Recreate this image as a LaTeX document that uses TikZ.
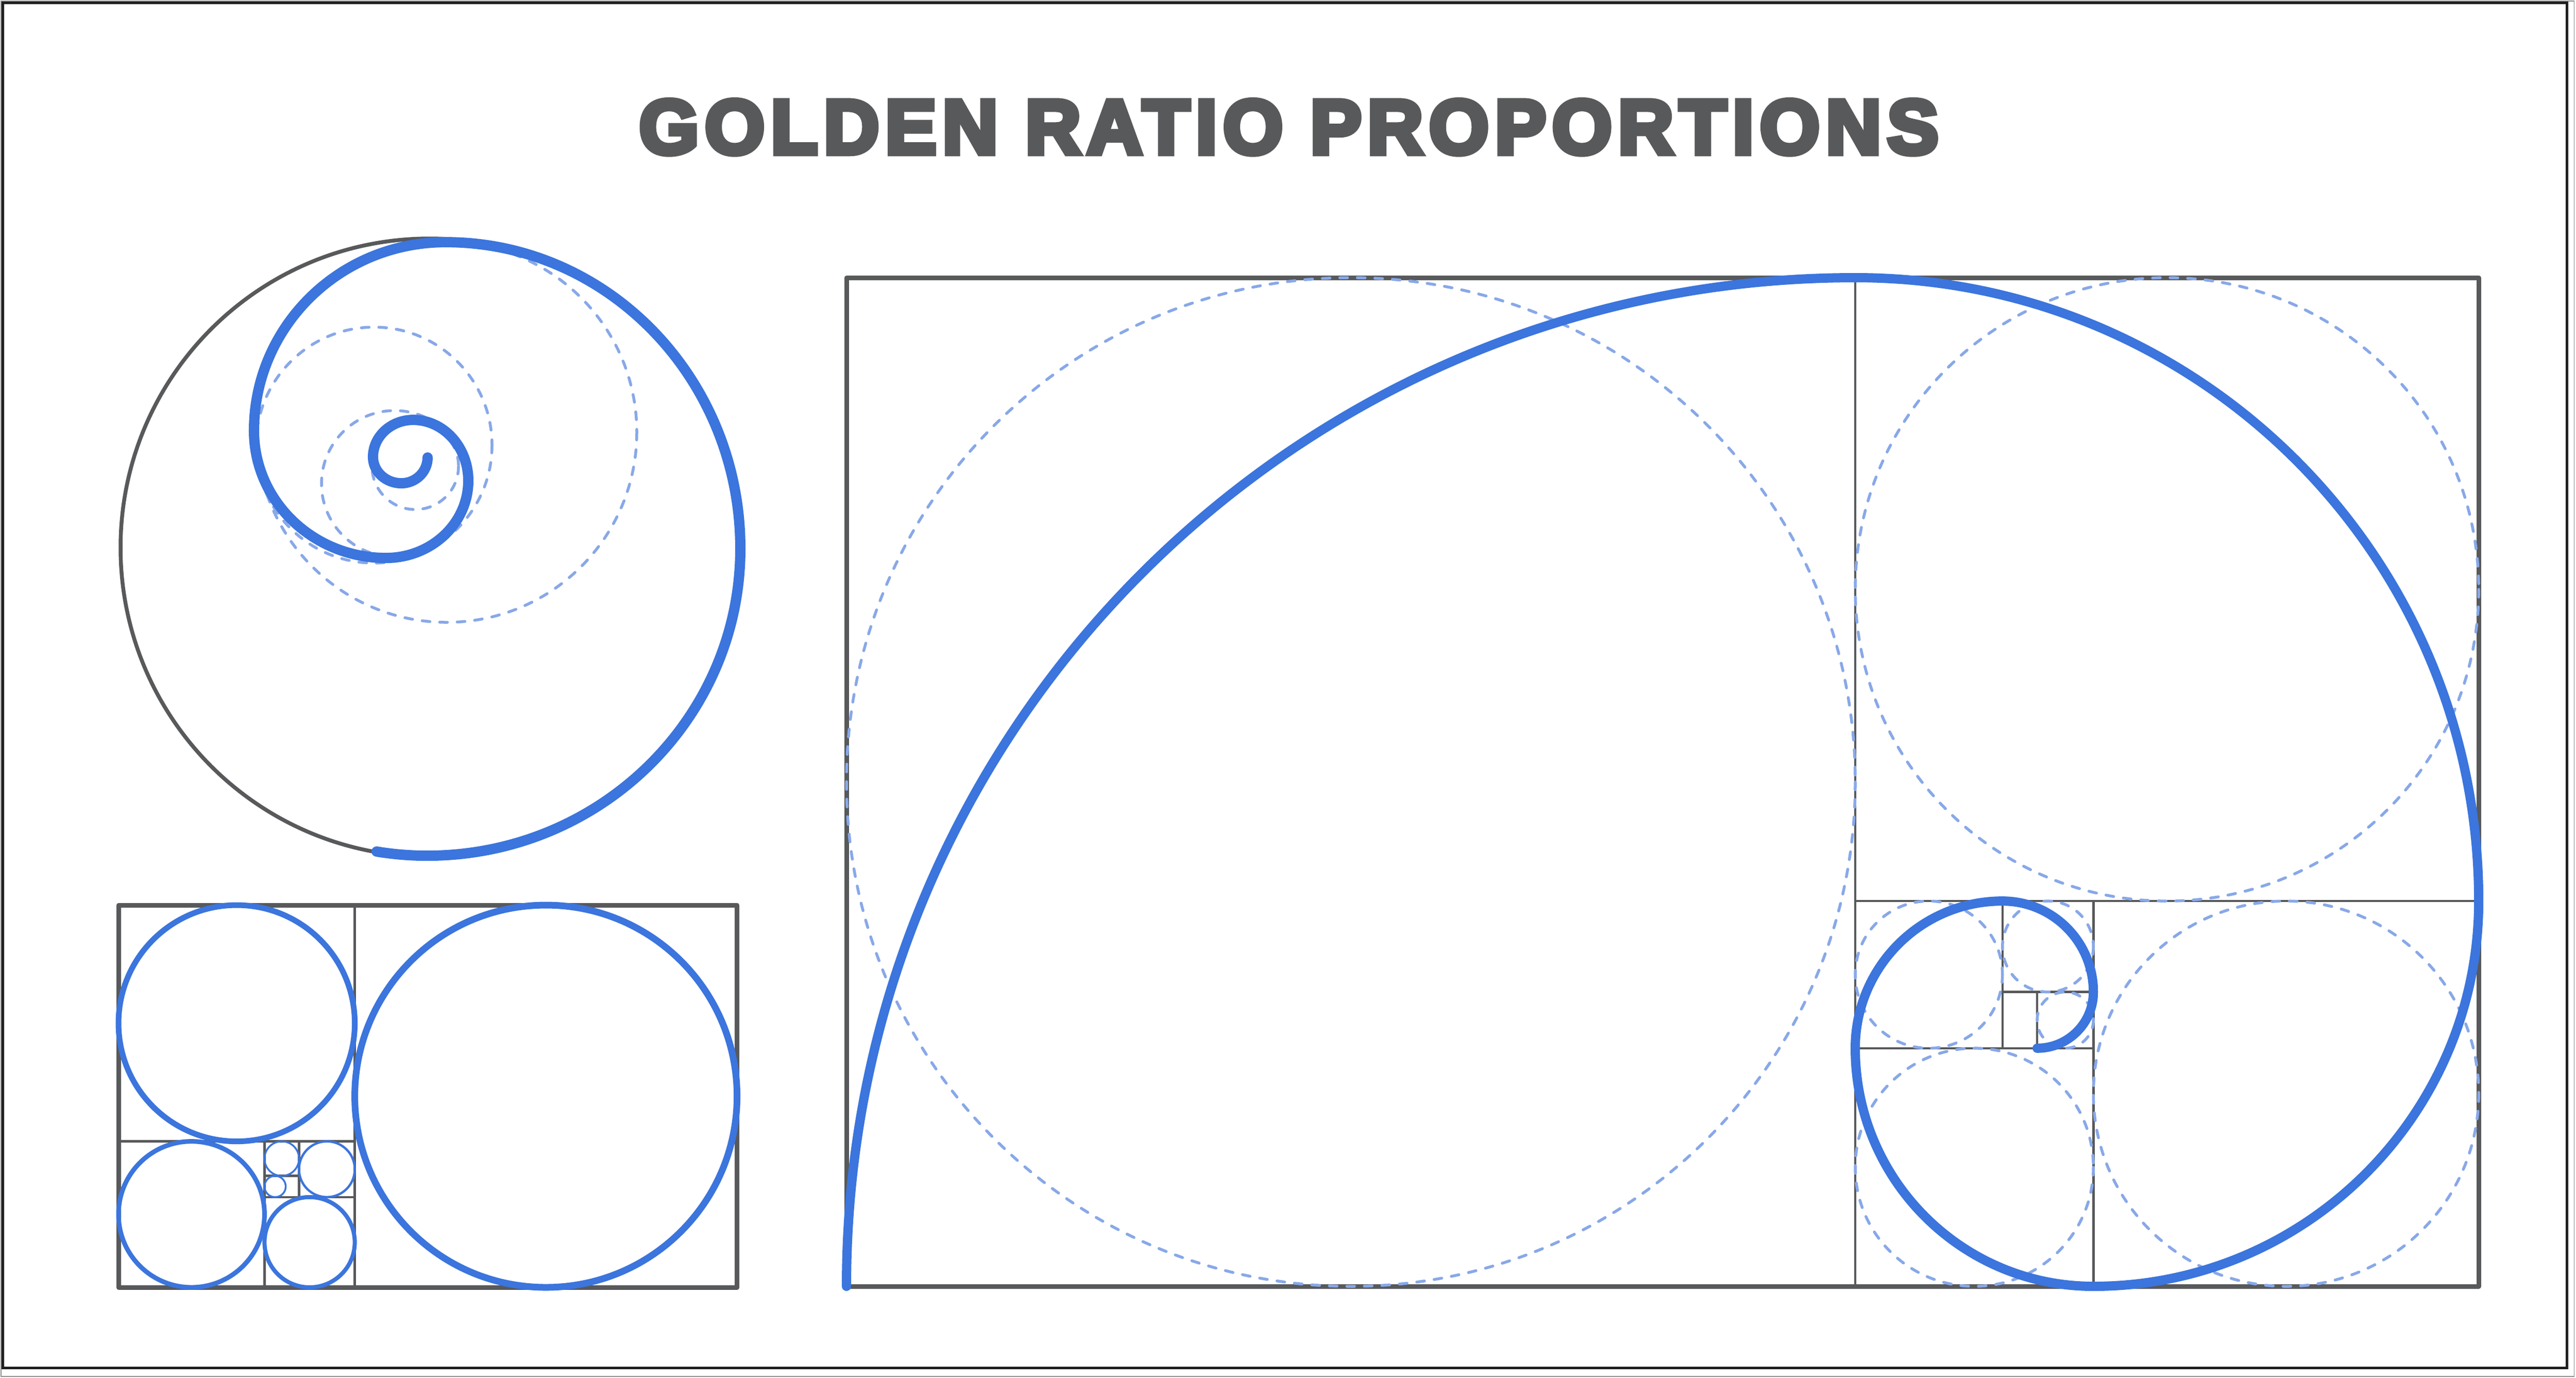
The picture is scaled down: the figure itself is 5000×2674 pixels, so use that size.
\documentclass[tikz,border=0pt]{standalone}
\usepackage{fontspec}
\usepackage{graphicx}
\newfontfamily\titlefont[FakeBold=7,LetterSpace=8]{Liberation Sans Bold}
\definecolor{spiralblue}{RGB}{59,117,221}
\definecolor{dashblue}{RGB}{136,168,232}
\definecolor{framegray}{RGB}{88,89,91}
\definecolor{titlegray}{RGB}{88,89,91}
\begin{document}
\begin{tikzpicture}[x=0.01cm,y=-0.01cm,
  frame/.style={draw=framegray, line width=0.09cm, line join=round},
  gridline/.style={draw=framegray, line width=0.045cm},
  guide/.style={draw=dashblue, line width=0.055cm, line cap=round, dash pattern=on 0.15cm off 0.19cm},
  spiral/.style={draw=spiralblue, line width=0.18cm, line cap=round, line join=round},
  ring/.style={draw=spiralblue}]
\useasboundingbox (0,0) rectangle (5000,2674);
\fill[white] (0,0) rectangle (5000,2674);
\draw[black!45, line width=0.012cm] (2,2) rectangle (4996.5,2672);
\draw[black!88, line width=0.045cm] (5.5,5.5) rectangle (4982.5,2655.5);

% title
\node[anchor=base west, inner sep=0, text=titlegray] (title) at (1240,298)
  {\resizebox{717pt}{!}{\titlefont GOLDEN RATIO PROPORTIONS}};

% ---------- left panel: spiral in circle ----------
\draw[guide] (867,839) circle[radius=369];
\draw[guide] (726,864) circle[radius=229];
\draw[guide] (766,939) circle[radius=142];
\draw[guide] (806,905) circle[radius=84];
\draw[framegray, line width=0.075cm] (834,1063) circle[radius=600];
\draw[spiral, line width=0.2cm] (731,1653)
  arc[start angle=99.4, end angle=90, radius=600]
  arc[start angle=90, end angle=0, x radius=608, y radius=596]
  arc[start angle=0, end angle=-90, x radius=572, y radius=595]
  arc[start angle=270, end angle=180, x radius=372, y radius=366]
  arc[start angle=180, end angle=90, x radius=256, y radius=247]
  arc[start angle=90, end angle=0, x radius=160, y radius=150]
  arc[start angle=0, end angle=-90, x radius=107, y radius=118]
  arc[start angle=270, end angle=180, x radius=78, y radius=72]
  arc[start angle=180, end angle=90, x radius=55, y radius=51]
  arc[start angle=90, end angle=0, x radius=51, y radius=50];

% ---------- left panel: golden rectangle of circles ----------
\draw[frame] (230,1757) rectangle (1430.6,2499);
\draw[gridline] (688.6,1757) -- (688.6,2499);
\draw[gridline] (230,2215.6) -- (688.6,2215.6);
\draw[gridline] (513.4,2215.6) -- (513.4,2499);
\draw[gridline] (513.4,2323.8) -- (688.6,2323.8);
\draw[gridline] (580.4,2215.6) -- (580.4,2323.8);
\draw[gridline] (513.4,2282.6) -- (580.4,2282.6);
\draw[ring, line width=0.13cm] (1059.6,2128) circle[radius=371];
\draw[ring, line width=0.11cm] (459.3,1986.3) circle[radius=229.3];
\draw[ring, line width=0.09cm] (371.7,2357.3) circle[radius=141.7];
\draw[ring, line width=0.08cm] (601,2411.4) circle[radius=87.6];
\draw[ring, line width=0.045cm] (634.5,2269.7) circle[radius=54.1];
\draw[ring, line width=0.035cm] (546.9,2249.1) circle[radius=33.5];
\draw[ring, line width=0.035cm] (534,2303.2) circle[radius=20.6];

% ---------- big golden rectangle ----------
\draw[gridline] (3601,539) -- (3601,2497);
\draw[gridline] (3601,1749.1) -- (4811.1,1749.1);
\draw[gridline] (4063.2,1749.1) -- (4063.2,2497);
\draw[gridline] (3601,2034.8) -- (4063.2,2034.8);
\draw[gridline] (3886.7,1749.1) -- (3886.7,2034.8);
\draw[gridline] (3886.7,1925.6) -- (4063.2,1925.6);
\draw[gridline] (3954,1925.6) -- (3954,2034.8);
\draw[frame] (1643,539) rectangle (4811.1,2497);

\draw[guide] (2622,1518) circle[radius=979];
\draw[guide] (4206.05,1144.05) circle[radius=605.05];
\draw[guide] (4437.15,2123.05) circle[radius=373.95];
\draw[guide] (3832.1,2265.9) circle[radius=231.1];
\draw[guide] (3743.85,1891.95) circle[radius=142.85];
\draw[guide] (3974.95,1837.35) circle[radius=88.25];
\draw[guide] (4008.6,1980.2) circle[radius=54.6];

\draw[spiral] (1643,2497)
  arc[start angle=180, end angle=270, radius=1958]
  arc[start angle=270, end angle=360, radius=1210.1]
  arc[start angle=0, end angle=90, radius=747.9]
  arc[start angle=90, end angle=180, radius=462.2]
  arc[start angle=180, end angle=270, radius=285.7]
  arc[start angle=270, end angle=360, radius=176.5]
  arc[start angle=0, end angle=90, radius=109.2];
\end{tikzpicture}
\end{document}
